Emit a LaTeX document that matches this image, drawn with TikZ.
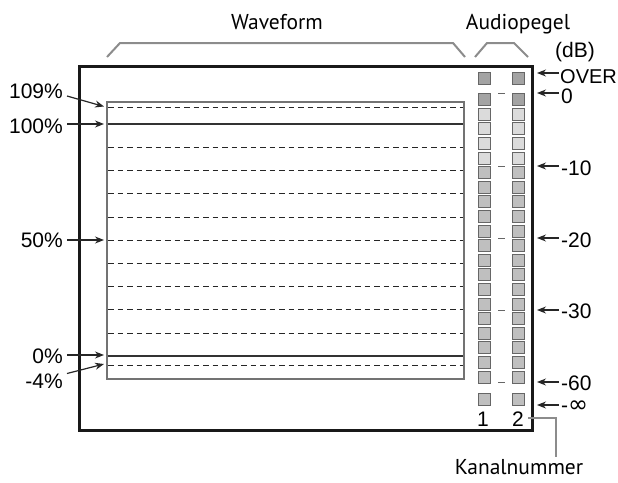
\documentclass[tikz,border=0pt]{standalone}
\usepackage{fontspec}
\setmainfont{Liberation Sans}
\newfontfamily\titlefont{PT Sans}
\newfontfamily\symfont{DejaVu Sans}
\usetikzlibrary{arrows.meta}
\definecolor{sqdarkc}{gray}{0.64}
\definecolor{sqlightc}{gray}{0.86}
\definecolor{sqmidc}{gray}{0.75}
\definecolor{edgec}{gray}{0.40}
\definecolor{brkc}{gray}{0.55}
\begin{document}
\begin{tikzpicture}[x=1pt,y=-1pt,
  lbl/.style={font=\fontsize{21}{24}\selectfont, inner sep=0pt},
  ttl/.style={font=\titlefont\fontsize{21.5}{24}\selectfont, inner sep=0pt},
  arr/.style={-{Stealth[length=9pt,width=7pt]}, line width=1.2pt, black!85},
  brk/.style={draw=brkc, line width=2pt},
  sq/.style={draw=edgec, minimum size=12pt, inner sep=0pt, line width=0.8pt},
  sqdark/.style={sq, fill=sqdarkc},
  sqlight/.style={sq, fill=sqlightc},
  sqmid/.style={sq, fill=sqmidc},
  tick/.style={draw=black!60, line width=0.8pt},
  dline/.style={draw=black!85, line width=1pt, dash pattern=on 5.5pt off 4pt},
  sline/.style={draw=black!80, line width=2pt},
  leader/.style={draw=brkc, line width=2pt}]
\useasboundingbox (0,0) rectangle (618,482);

% titles
\node[ttl, anchor=base] (wf) at (277,29) {Waveform};
\node[ttl, anchor=base] (ap) at (518,29) {Audiopegel};
\node[lbl, anchor=base west] (db) at (555,57) {(dB)};

% brackets
\draw[brk] (107,57) -- (120,43) -- (453,43) -- (465,57);
\draw[brk] (475,57) -- (487,43) -- (514,43) -- (528,57);

% outer frame
\draw[line width=3pt, black!90] (79,66) rectangle (532,430);

% inner waveform box
\draw[draw=black!55, line width=1.2pt] (107,102) rectangle (464,379);
\draw[dline] (108,107) -- (463,107);
\draw[sline] (108,124) -- (463,124);
\foreach \yy in {147,170,193,217,240,263,286,309,333}{
  \draw[dline] (108,\yy) -- (463,\yy);
}
\draw[sline] (108,356) -- (463,356);
\draw[dline] (108,365) -- (463,365);

% left labels
\node[lbl, anchor=base east] (p109) at (63,98) {109\%};
\node[lbl, anchor=base east] (p100) at (63,133) {100\%};
\node[lbl, anchor=base east] (p50) at (63,247) {50\%};
\node[lbl, anchor=base east] (p0) at (63,363) {0\%};
\node[lbl, anchor=base east] (pm4) at (63,388) {-4\%};
\coordinate (t109) at (104,106.5);
\coordinate (t100) at (104,124);
\coordinate (t50) at (104,240);
\coordinate (t0) at (104,355);
\coordinate (tm4) at (104,364);
\draw[arr] (67,96) -- (t109);
\draw[arr] (67,124) -- (t100);
\draw[arr] (67,240) -- (t50);
\draw[arr] (67,355) -- (t0);
\draw[arr] (67,373.5) -- (tm4);

% meter squares
\foreach \c/\x in {a/484.5,b/518}{
  \node[sqdark] (\c over) at (\x,78.5) {};
  \node[sqdark] (\c0) at (\x,99.5) {};
  \foreach \i in {1,...,4}{ \node[sqlight] (\c\i) at (\x,{99.5+14.6*\i}) {}; }
  \foreach \i in {5,...,19}{ \node[sqmid] (\c\i) at (\x,{99.5+14.6*\i}) {}; }
  \node[sqmid] (\c inf) at (\x,399.5) {};
}
% ticks between columns
\foreach \y in {93,166,238,310,382}{
  \draw[tick] (498,\y) -- (505,\y);
}

% right labels
\node[lbl, anchor=base west, font=\fontsize{20}{24}\selectfont] (rover) at (560,83) {OVER};
\node[lbl, anchor=base west] (r0) at (561,103) {0};
\node[lbl, anchor=base west] (r10) at (561,175) {-10};
\node[lbl, anchor=base west] (r20) at (561,247) {-20};
\node[lbl, anchor=base west] (r30) at (561,318) {-30};
\node[lbl, anchor=base west] (r60) at (561,390) {-60};
\node[lbl, anchor=base west] (rinf) at (561,412) {-{\symfont\fontsize{24}{26}\selectfont ∞}};
\foreach \n/\y in {over/73,0/93,10/166,20/238,30/310,60/382,inf/405}{
  \coordinate (s\n) at (559,\y);
  \coordinate (e\n) at (537,\y);
  \draw[arr] (s\n) -- (e\n);
}

% channel numbers
\node[lbl, anchor=base] (ch1) at (483,426) {1};
\node[lbl, anchor=base] (ch2) at (518,426) {2};
\node[ttl, anchor=base] (kn) at (519,474) {Kanalnummer};
\coordinate (kbend) at (556,418);
\draw[leader] (528,418) -- (kbend) -- (556,457);
\end{tikzpicture}
\end{document}
